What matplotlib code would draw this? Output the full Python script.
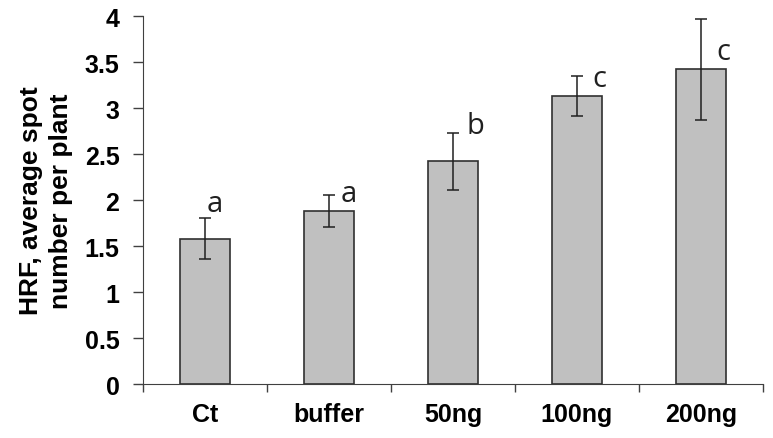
import matplotlib.pyplot as plt
import numpy as np

# data
groups = ["Ct", "buffer", "50ng", "100ng", "200ng"]
means = [1.58, 1.88, 2.42, 3.13, 3.42]
errors = [0.22, 0.17, 0.31, 0.22, 0.55]
letters = ["a", "a", "b", "c", "c"]
letter_y = [1.88, 1.99, 2.73, 3.24, 3.53]
letter_dx = [0.08, 0.16, 0.18, 0.18, 0.18]

fig = plt.figure(figsize=(7.73, 4.39), dpi=100)
ax = fig.add_axes([0.185, 0.123, 0.802, 0.838])

x = np.arange(len(groups))
ax.bar(x, means, width=0.4, color="#c0c0c0", edgecolor="#303030", linewidth=1.2, zorder=2)
ax.errorbar(x, means, yerr=errors, fmt="none", ecolor="#202020", elinewidth=1.1,
            capsize=4, capthick=1.1, zorder=3)

for i in range(len(groups)):
    ax.text(x[i] + letter_dx[i], letter_y[i], letters[i], fontsize=21, family="Open Sans",
            ha="center", va="baseline", color="#202020")

ax.set_xlim(-0.5, len(groups) - 0.5)
ax.set_ylim(0, 4)
ax.set_yticks([0, 0.5, 1, 1.5, 2, 2.5, 3, 3.5, 4])
ax.set_yticklabels(["0", "0.5", "1", "1.5", "2", "2.5", "3", "3.5", "4"])
ax.set_xticks(x)
ax.set_xticklabels(groups)
ax.set_xticks(np.arange(len(groups) + 1) - 0.5, minor=True)
ax.tick_params(axis="x", which="major", length=0, pad=13)
ax.tick_params(axis="x", which="minor", length=6, direction="out", width=1, color="#404040")
ax.tick_params(axis="y", length=7, width=1, color="#404040", pad=10)

for lbl in ax.get_xticklabels() + ax.get_yticklabels():
    lbl.set_fontsize(18)
    lbl.set_fontweight("bold")
    lbl.set_family("Liberation Sans")

ax.set_ylabel("HRF, average spot\nnumber per plant", fontsize=19, fontweight="bold",
              family="Liberation Sans", labelpad=8, linespacing=1.35)

ax.spines["top"].set_visible(False)
ax.spines["right"].set_visible(False)
ax.spines["left"].set_color("#404040")
ax.spines["bottom"].set_color("#404040")

fig.savefig("out.png", dpi=100)
